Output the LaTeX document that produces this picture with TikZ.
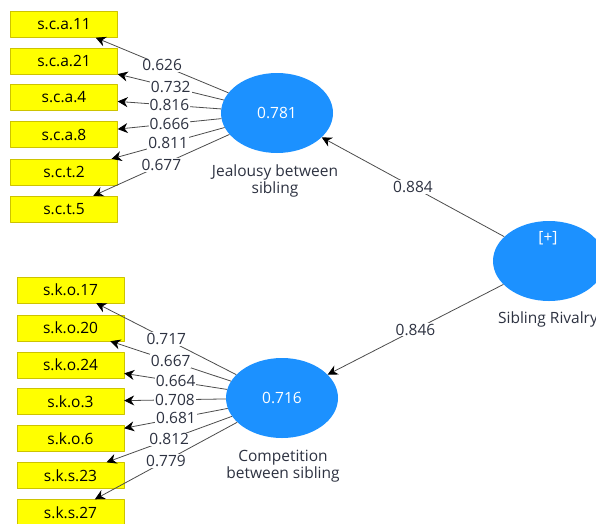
\documentclass[tikz,border=0pt]{standalone}
\usepackage{fontspec}
\setmainfont{Open Sans}
\usetikzlibrary{shapes.geometric,arrows.meta}
\definecolor{lvblue}{RGB}{28,145,255}
\definecolor{mvyellow}{RGB}{255,255,0}
\definecolor{mvedge}{RGB}{205,195,0}
\definecolor{txtgray}{RGB}{45,50,65}
\tikzset{
	item/.style={draw=mvedge, fill=mvyellow, minimum width=107pt, minimum height=26pt, inner sep=0pt, text=black},
	latent/.style={ellipse, fill=lvblue, minimum width=112pt, minimum height=80pt, inner sep=0pt, text=white},
	load/.style={->, draw=black!70, line width=0.8pt},
	val/.style={midway, fill=white, inner sep=1pt, text=txtgray},
	caption/.style={align=center, text=txtgray}
}
\begin{document}
\begin{tikzpicture}[x=1pt, y=-1pt, font=\fontsize{15.5}{16.5}\selectfont, line join=round, >={Stealth[length=10pt,width=10pt,color=black]}]
	\useasboundingbox (0,0) rectangle (596,523);
	% jealousy block
	\node[item] (sca11) at (64,24.5) {s.c.a.11};
	\node[item] (sca21) at (64,61) {s.c.a.21};
	\node[item] (sca4) at (64,97.5) {s.c.a.4};
	\node[item] (sca8) at (64,134.5) {s.c.a.8};
	\node[item] (sct2) at (64,172) {s.c.t.2};
	\node[item] (sct5) at (64,209) {s.c.t.5};
	\node[latent] (jeal) at (277,113) {0.781};
	\node[caption] (jealtxt) at (275,181) {Jealousy between\\sibling};
	% competition block
	\node[item] (sko17) at (70.5,290) {s.k.o.17};
	\node[item] (sko20) at (70.5,328) {s.k.o.20};
	\node[item] (sko24) at (70.5,365) {s.k.o.24};
	\node[item] (sko3) at (70.5,401.5) {s.k.o.3};
	\node[item] (sko6) at (70.5,438.5) {s.k.o.6};
	\node[item] (sks23) at (70.5,475.5) {s.k.s.23};
	\node[item] (sks27) at (70.5,512.5) {s.k.s.27};
	\node[latent] (comp) at (282,398) {0.716};
	\node[caption] (comptxt) at (283,466) {Competition\\between sibling};
	% second order
	\node[latent] (rival) at (549,261) {};
	\node[text=white] (plus) at (548,238) {[+]};
	\node[caption] (rivaltxt) at (548,319) {Sibling Rivalry};
	% outer loadings
	\draw[load] (jeal) -- node[val]{0.626} (sca11);
	\draw[load] (jeal) -- node[val]{0.732} (sca21);
	\draw[load] (jeal) -- node[val]{0.816} (sca4);
	\draw[load] (jeal) -- node[val]{0.666} (sca8);
	\draw[load] (jeal) -- node[val]{0.811} (sct2);
	\draw[load] (jeal) -- node[val]{0.677} (sct5);
	\draw[load] (comp) -- node[val]{0.717} (sko17);
	\draw[load] (comp) -- node[val]{0.667} (sko20);
	\draw[load] (comp) -- node[val]{0.664} (sko24);
	\draw[load] (comp) -- node[val]{0.708} (sko3);
	\draw[load] (comp) -- node[val]{0.681} (sko6);
	\draw[load] (comp) -- node[val]{0.812} (sks23);
	\draw[load] (comp) -- node[val]{0.779} (sks27);
	% path coefficients
	\draw[load] (rival) -- node[val]{0.884} (jeal);
	\draw[load] (rival) -- node[val]{0.846} (comp);
\end{tikzpicture}
\end{document}
